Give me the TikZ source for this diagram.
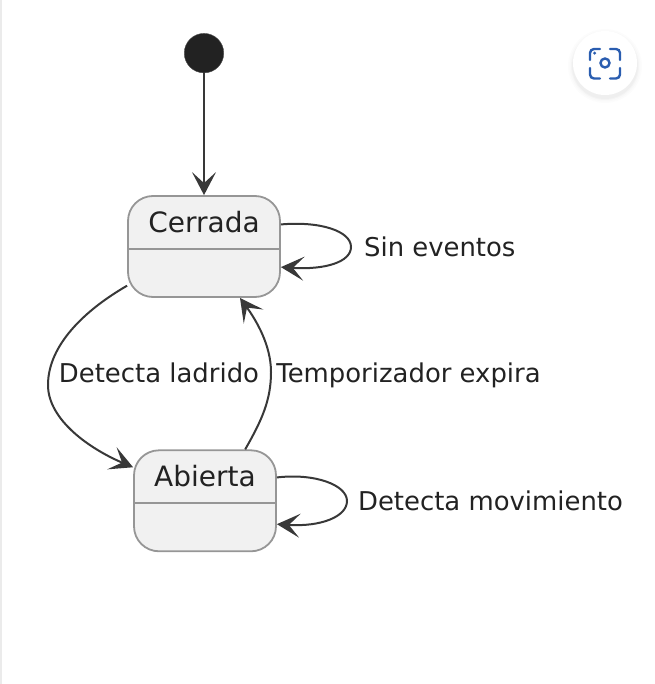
\documentclass[tikz,border=0pt]{standalone}
\usepackage{fontspec}
\setmainfont{DejaVu Sans}
\usetikzlibrary{arrows.meta, positioning}

\definecolor{boxfill}{HTML}{F1F1F1}
\definecolor{boxline}{HTML}{969696}
\definecolor{inkdark}{HTML}{222222}
\definecolor{iconblue}{HTML}{2A5DB0}

\begin{document}
\begin{tikzpicture}[
        x=1pt, y=-1pt,
        state/.style={rectangle, draw=boxline, fill=boxfill, line width=1.8pt, rounded corners=25pt, minimum height=101pt, inner sep=0pt},
        title/.style={font=\fontsize{28}{33}\selectfont, text=inkdark, inner sep=0pt},
        message/.style={font=\fontsize{25.9}{31}\selectfont, text=inkdark, inner sep=0pt},
        divider/.style={boxline, line width=1.8pt},
        line/.style={-{Stealth[length=23pt, width=24pt, inset=11pt]}, draw=inkdark!90!white, line width=2pt},
        icon/.style={iconblue, line width=2.4pt, line cap=round}
    ]
        \useasboundingbox (0,0) rectangle (654,684);
        \draw[black!8, line width=1.2pt] (1,0) -- (1,684);

        % States
        \node[state, minimum width=152pt] (cerrada) at (204,246.5) {};
        \node[state, minimum width=142pt, below=151.5pt of cerrada, xshift=1pt] (abierta) {};
        \node[circle, fill=inkdark, draw=black!70, minimum size=39.5pt, inner sep=0pt, above=122pt of cerrada] (start) {};

        \node[title, below=15.5pt of cerrada.north] (cerradaname) {Cerrada};
        \node[title, below=15.5pt of abierta.north] (abiertaname) {Abierta};
        \draw[divider] ([yshift=-2.5pt]cerrada.west) -- ([yshift=-2.5pt]cerrada.east);
        \draw[divider] ([yshift=-2pt]abierta.west) -- ([yshift=-2pt]abierta.east);

        % Transitions
        \draw[line] (start) -- (cerrada);
        \draw[line] (cerrada.16) .. controls (320,221) and (351,231) .. (351,247) .. controls (351,262) and (325,270) .. (cerrada.-15);
        \draw[line] (abierta.18) .. controls (315,473) and (347,485) .. (347,501) .. controls (347,517) and (320,527) .. (abierta.-18);
        \draw[line] (cerrada.-153) .. controls (85,310) and (48,345) .. (48,385) .. controls (48,420) and (90,449) .. (abierta.155);
        \draw[line] (abierta.52) .. controls (262,420) and (271,400) .. (271,372) .. controls (271,345) and (256,320) .. (cerrada.-55);

        % Labels
        \node[message, anchor=base] (ladrido) at (159,382) {Detecta ladrido};
        \node[message, anchor=base] (expira) at (408.5,382) {Temporizador expira};
        \node[message, right=83pt of cerrada] (sineventos) {Sin eventos};
        \node[message, right=81pt of abierta] (movimiento) {Detecta movimiento};

        % Lens button
        \foreach \r/\o in {37/0.01, 35.5/0.012, 34/0.018, 33/0.02}
            \fill[black, opacity=\o] (605,66) circle (\r);
        \node[circle, fill=white, minimum size=64pt, inner sep=0pt] (lens) at (605,63) {};
        \node[circle, draw=iconblue, line width=2.4pt, minimum size=9pt, inner sep=0pt] (lensring) at (lens) {};
        \node[circle, fill=iconblue, minimum size=3.4pt, inner sep=0pt, above left=4.5pt and 5pt of lensring] (lensdot) {};
        \draw[icon, rounded corners=4pt] (600,49) -- (590,49) -- (590,60);
        \draw[icon, rounded corners=4pt] (610,49) -- (620,49) -- (620,60);
        \draw[icon, rounded corners=4pt] (600,78.5) -- (590,78.5) -- (590,68);
        \draw[icon, rounded corners=4pt] (610,78.5) -- (620,78.5) -- (620,68);
    \end{tikzpicture}
\end{document}
